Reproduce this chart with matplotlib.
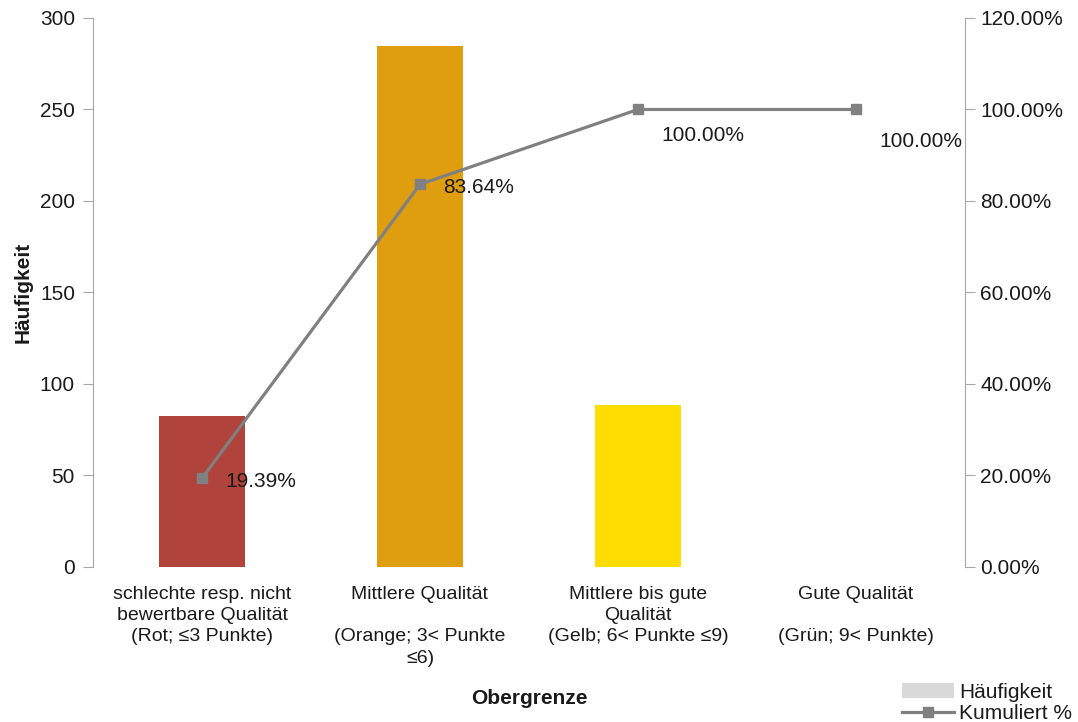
import matplotlib
matplotlib.use("Agg")
import matplotlib.pyplot as plt
from matplotlib.patches import Patch
from matplotlib.lines import Line2D

plt.rcParams['font.family'] = ['Liberation Sans', 'DejaVu Sans']

categories = [
    "schlechte resp. nicht\nbewertbare Qualität\n(Rot; ≤3 Punkte)",
    "Mittlere Qualität\n\n(Orange; 3< Punkte\n≤6)",
    "Mittlere bis gute\nQualität\n(Gelb; 6< Punkte ≤9)",
    "Gute Qualität\n\n(Grün; 9< Punkte)",
]
frequency = [82.5, 284.7, 88.5, 0]
cumulative_pct = [19.39, 83.64, 100.00, 100.00]
bar_colors = ["#B0433B", "#DF9E10", "#FFDD00", "#70AD47"]
left_ticks = [0, 50, 100, 150, 200, 250, 300]
right_ticks = [0, 20, 40, 60, 80, 100, 120]

axis_gray = "#A6A6A6"
line_gray = "#808080"
text_col = "#1A1A1A"

fig = plt.figure(figsize=(10.78, 7.22), dpi=100)
ax = fig.add_axes([0.0863, 0.2147, 0.8088, 0.7604])
ax2 = ax.twinx()

x = list(range(len(categories)))
ax.bar(x, frequency, width=0.395, color=bar_colors, zorder=2)
ax.set_xlim(-0.5, 3.5)
ax.set_ylim(0, 300)
ax.set_yticks(left_ticks)
ax.set_xticks(x)
ax.set_xticklabels(categories, fontsize=14, color=text_col, linespacing=1.31)
ax.tick_params(axis='x', length=0, pad=14)
ax.tick_params(axis='y', direction='out', length=7, color=axis_gray,
               labelsize=15, labelcolor=text_col, pad=6)
ax.set_ylabel("Häufigkeit", fontsize=15, fontweight='bold', color=text_col, labelpad=5)
ax.set_xlabel("Obergrenze", fontsize=15, fontweight='bold', color=text_col)
ax.xaxis.set_label_coords(0.5, -0.222)

for side in ['top', 'bottom']:
    ax.spines[side].set_visible(False)
    ax2.spines[side].set_visible(False)
ax.spines['left'].set_color(axis_gray)
ax.spines['right'].set_visible(False)
ax2.spines['left'].set_visible(False)
ax2.spines['right'].set_color(axis_gray)

ax2.plot(x, cumulative_pct, color=line_gray, lw=2.3, marker='s', ms=7.5,
         markeredgecolor=line_gray, zorder=3)
ax2.set_ylim(0, 120)
ax2.set_yticks(right_ticks)
ax2.set_yticklabels([f"{t:.2f}%" for t in right_ticks])
ax2.tick_params(axis='y', direction='out', length=7, color=axis_gray,
                labelsize=15, labelcolor=text_col, pad=4)

offsets = [(17, -2), (17, -2), (17, -19), (17, -23)]
for xi, v, off in zip(x, cumulative_pct, offsets):
    ax2.annotate(f"{v:.2f}%", (xi, v), xytext=off, textcoords='offset points',
                 ha='left', va='center', fontsize=15, color=text_col)

handles = [
    Patch(facecolor="#D9D9D9", edgecolor="none", hatch="....", label="Häufigkeit"),
    Line2D([0], [0], color=line_gray, lw=2.3, marker='s', ms=7.5, label="Kumuliert %"),
]
leg = fig.legend(handles=handles, loc='lower right', bbox_to_anchor=(1.008, -0.022),
                 frameon=False, fontsize=15, handlelength=2.5, handletextpad=0.25,
                 labelspacing=0.12, borderpad=0.2)
for t in leg.get_texts():
    t.set_color(text_col)

fig.savefig("out.png", dpi=100)
